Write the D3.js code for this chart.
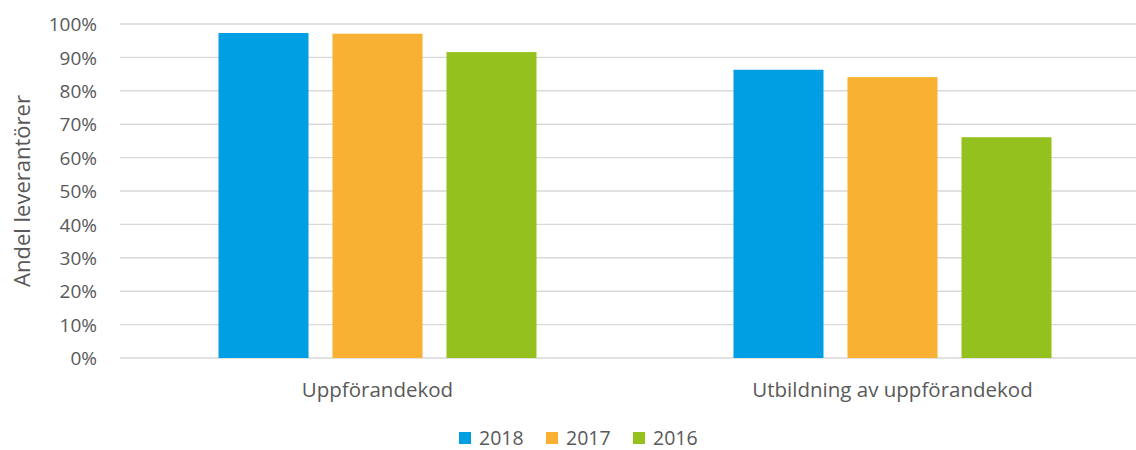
<!DOCTYPE html>
<html>
<head>
<meta charset="utf-8">
<script src="https://cdn.jsdelivr.net/npm/d3@7"></script>
<style>
  body { margin: 0; background: #fff; }
  text { font-family: "Open Sans", sans-serif; fill: #595959; }
</style>
</head>
<body>
<div id="chart"></div>
<script>
// data
var categories = ['Uppförandekod', 'Utbildning av uppförandekod'];
var years = ['2018', '2017', '2016'];
var values2018 = [0.973, 0.863];
var values2017 = [0.971, 0.841];
var values2016 = [0.916, 0.661];
var yTicks = [0, 0.1, 0.2, 0.3, 0.4, 0.5, 0.6, 0.7, 0.8, 0.9, 1];
var colors = ['#009FE3', '#F8B133', '#95C11F'];

var seriesValues = [values2018, values2017, values2016];
var data = categories.map(function(c, i){
  return { category: c, values: years.map(function(y, j){
    return { year: y, value: seriesValues[j][i] };
  })};
});

var width = 1136, height = 450;
var margin = { top: 24, right: -14, bottom: 92, left: 120 };

var svg = d3.select('#chart').append('svg')
  .attr('width', width)
  .attr('height', height);

var x0 = d3.scaleBand()
  .domain(categories)
  .range([margin.left, width - margin.right])
  .paddingInner(0.3825)
  .paddingOuter(0.19125);

var x1 = d3.scaleBand()
  .domain(years)
  .range([0, x0.bandwidth()])
  .paddingInner(0.2105);

var y = d3.scaleLinear()
  .domain([0, 1])
  .range([height - margin.bottom, margin.top]);

var color = d3.scaleOrdinal().domain(years).range(colors);

// gridlines
svg.append('g')
  .attr('class', 'grid')
  .selectAll('line')
  .data(yTicks)
  .enter().append('line')
    .attr('x1', margin.left)
    .attr('x2', width)
    .attr('y1', function(d){ return y(d); })
    .attr('y2', function(d){ return y(d); })
    .attr('stroke', '#D9D9D9')
    .attr('stroke-width', 1.4);

// y axis labels
var yAxis = svg.append('g')
  .attr('transform', 'translate(' + (margin.left - 23) + ',0)')
  .call(d3.axisLeft(y).tickValues(yTicks).tickSize(0).tickFormat(d3.format('.0%')));
yAxis.select('.domain').remove();
yAxis.selectAll('text')
  .attr('x', 0)
  .attr('dy', '0.35em')
  .style('font-size', '19px')
  .style('fill', '#595959');

// bars
svg.append('g')
  .selectAll('g')
  .data(data)
  .enter().append('g')
    .attr('transform', function(d){ return 'translate(' + x0(d.category) + ',0)'; })
  .selectAll('rect')
  .data(function(d){ return d.values; })
  .enter().append('rect')
    .attr('x', function(d){ return x1(d.year); })
    .attr('y', function(d){ return y(d.value); })
    .attr('width', x1.bandwidth())
    .attr('height', function(d){ return y(0) - y(d.value); })
    .attr('fill', function(d){ return color(d.year); });

// category labels
var xAxis = svg.append('g')
  .attr('transform', 'translate(0,' + (y(0) + 32) + ')')
  .call(d3.axisBottom(x0).tickSize(0));
xAxis.select('.domain').remove();
xAxis.selectAll('text')
  .attr('y', 0)
  .attr('dy', '0.35em')
  .style('font-size', '20.5px')
  .style('fill', '#595959');

// y axis title
svg.append('text')
  .attr('transform', 'rotate(-90)')
  .attr('x', -191)
  .attr('y', 22)
  .attr('dy', '0.35em')
  .style('text-anchor', 'middle')
  .style('font-size', '22px')
  .text('Andel leverantörer');

// legend
var legendX = [459, 546, 633];
var legend = svg.append('g')
  .selectAll('g')
  .data(years)
  .enter().append('g')
    .attr('transform', function(d, i){ return 'translate(' + legendX[i] + ',432)'; });
legend.append('rect')
  .attr('width', 12)
  .attr('height', 12)
  .attr('fill', function(d){ return color(d); });
legend.append('text')
  .attr('x', 20)
  .attr('y', 6)
  .attr('dy', '0.35em')
  .style('font-size', '19.5px')
  .text(function(d){ return d; });
</script>
</body>
</html>
